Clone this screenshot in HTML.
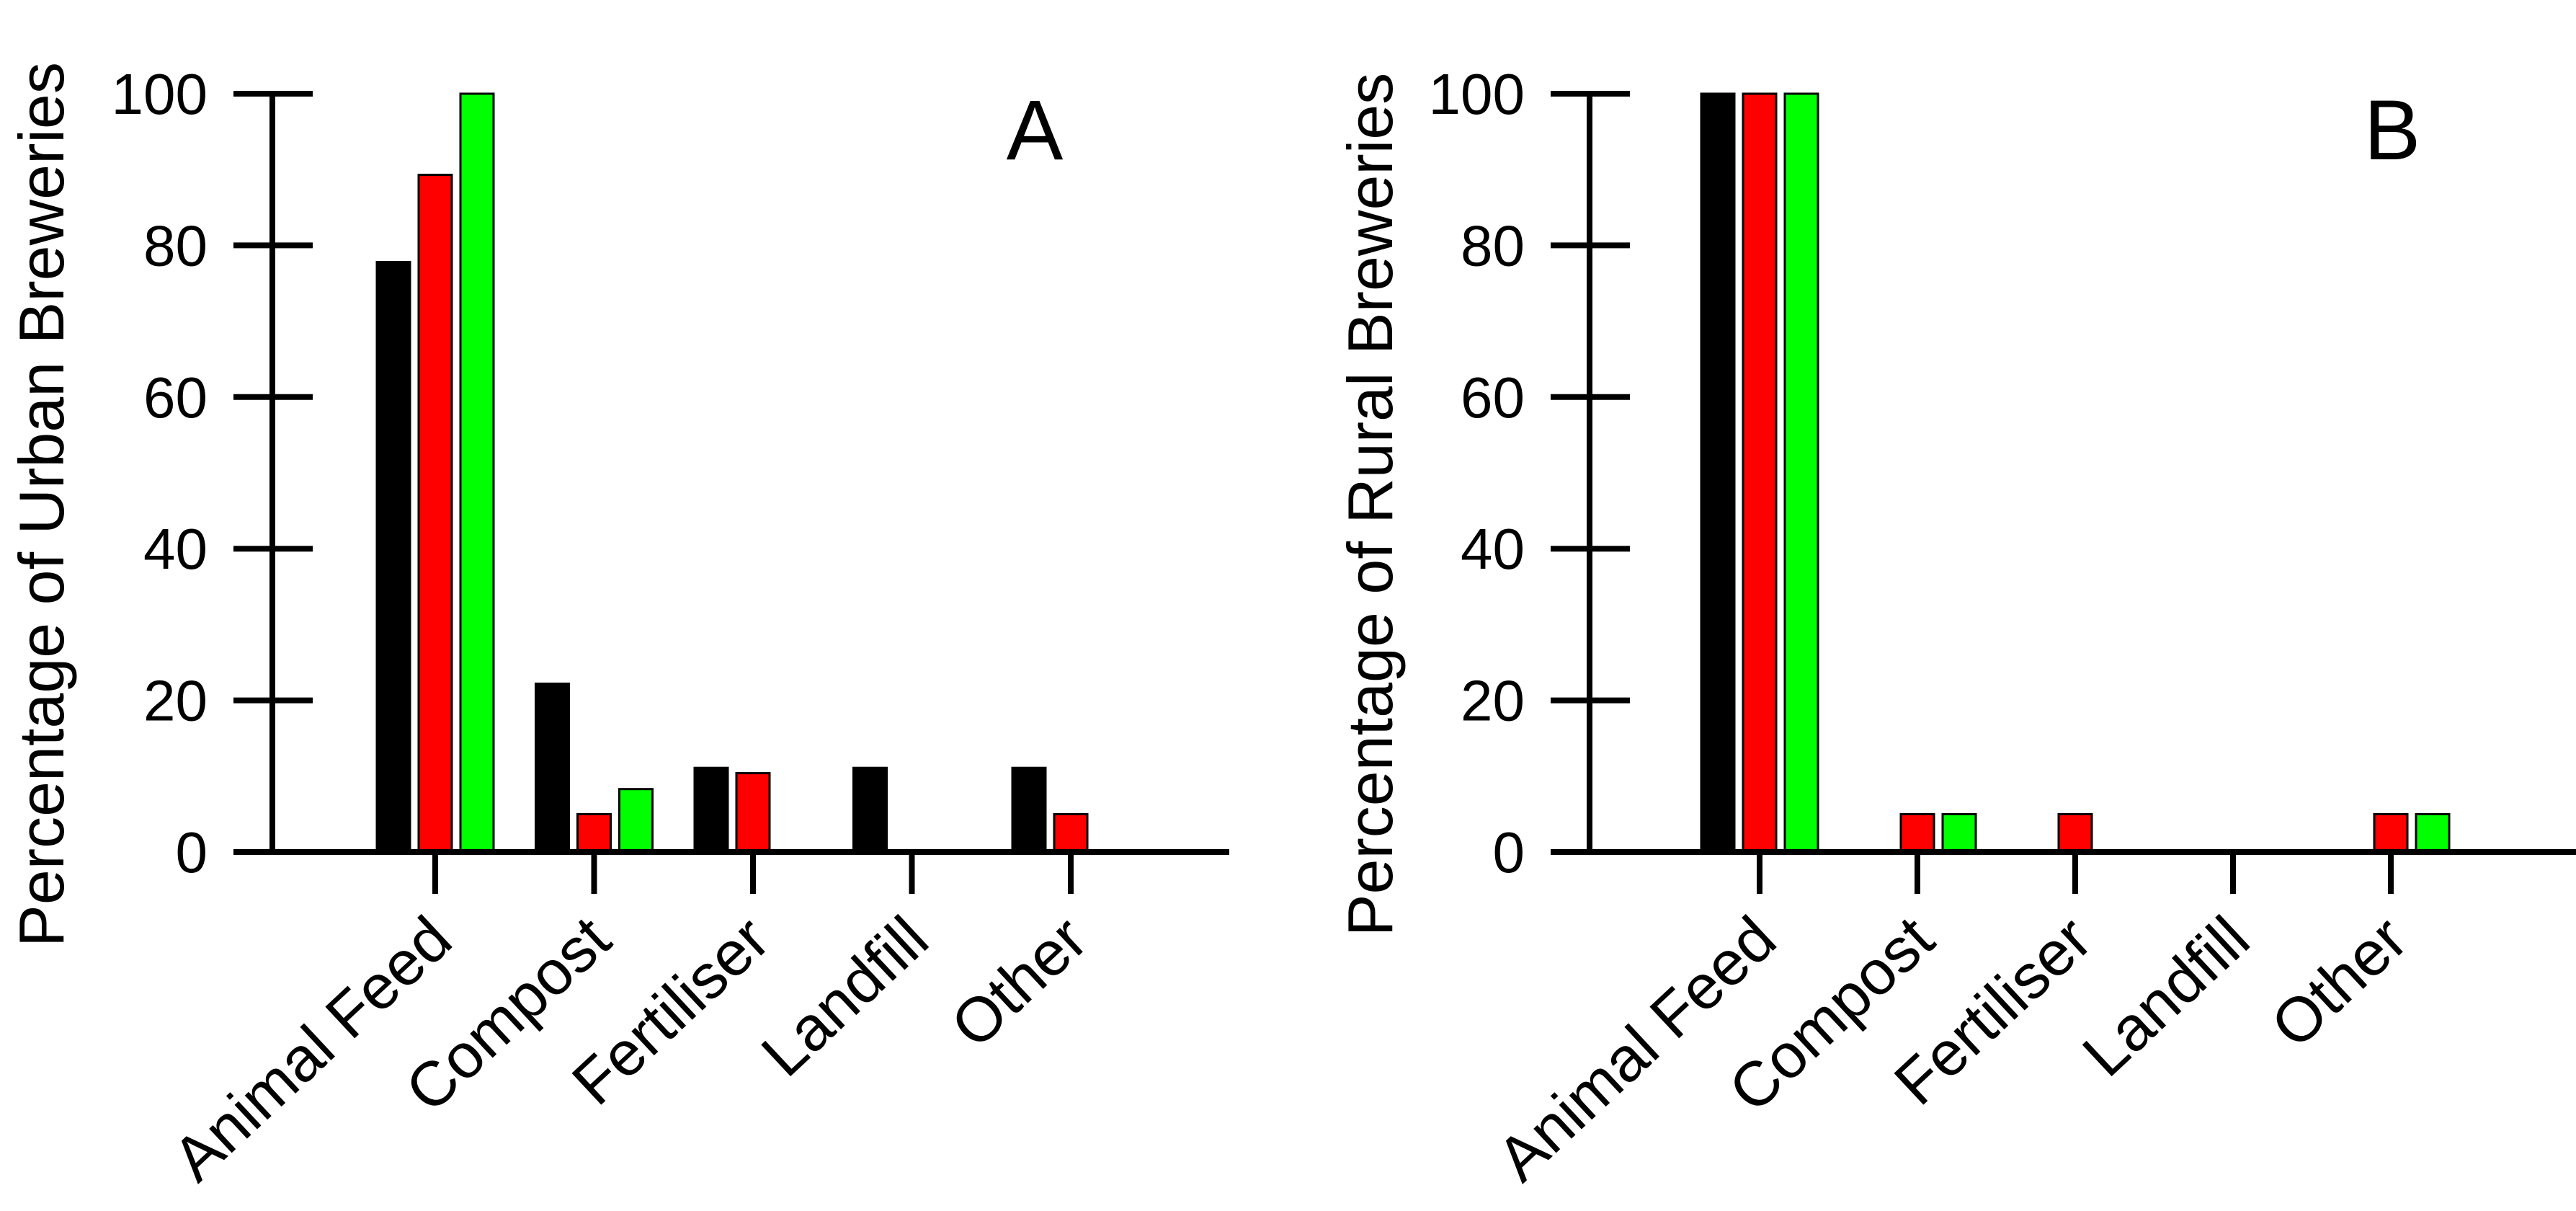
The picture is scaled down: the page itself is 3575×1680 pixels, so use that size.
<!DOCTYPE html>
<html><head><meta charset="utf-8"><style>html,body{margin:0;padding:0;background:#fff}svg{display:block}</style></head>
<body>
<svg id="chart" width="3575" height="1680" xmlns="http://www.w3.org/2000/svg" font-family="Liberation Sans, Arial, sans-serif"></svg>
<script>
const categories = ["Animal Feed","Compost","Fertiliser","Landfill","Other"];
const seriesColors = ["#000000","#ff0000","#00ff00"];
const urbanBlack = [77.8, 22.2, 11.1, 11.1, 11.1];
const urbanRed = [89.3, 5, 10.4, 0, 5];
const urbanGreen = [100, 8.3, 0, 0, 0];
const ruralBlack = [100, 0, 0, 0, 0];
const ruralRed = [100, 5, 5, 0, 5];
const ruralGreen = [100, 5, 0, 0, 5];
const yTicks = [0, 20, 40, 60, 80, 100];

const NS = "http://www.w3.org/2000/svg";
const svg = document.getElementById('chart');
function mk(tag, attrs, parent) {
  const e = document.createElementNS(NS, tag);
  for (const k in attrs) e.setAttribute(k, attrs[k]);
  (parent || svg).appendChild(e);
  return e;
}
function panel(cfg) {
  const g = mk('g', {});
  
  
  const y0 = 1182, y100 = 130;
  const yScale = v => y0 - (v / 100) * (y0 - y100);
  const xCat = i => cfg.cat0 + i * cfg.catStep;
  const series = cfg.series;
  series.forEach((vals, s) => {
    vals.forEach((v, i) => {
      if (v <= 0) return;
      const cx = xCat(i) + (s - 1) * 58;
      const r = mk('rect', {x: cx - 23, y: yScale(v), width: 46, height: y0 - yScale(v), fill: seriesColors[s], stroke: '#000', 'stroke-width': 3}, g);
      
      
    });
  });
  const ya = mk('line', {x1: cfg.axisX, y1: y100, x2: cfg.axisX, y2: y0, stroke: '#000', 'stroke-width': 8}, g);
  
  
  yTicks.forEach(t => {
    const y = yScale(t);
    const tl = mk('line', {x1: cfg.axisX - 54, y1: y, x2: cfg.axisX + 56, y2: y, stroke: '#000', 'stroke-width': 8}, g);
    
    
    const tx = mk('text', {x: cfg.axisX - 90, y: y + 28, 'font-size': 80, 'text-anchor': 'end'}, g);
    tx.textContent = t;
    
    
  });
  const xa = mk('line', {x1: cfg.axisX - 54, y1: y0, x2: cfg.xEnd, y2: y0, stroke: '#000', 'stroke-width': 8}, g);
  
  
  categories.forEach((c, i) => {
    const x = xCat(i);
    const tk = mk('line', {x1: x, y1: y0, x2: x, y2: 1240, stroke: '#000', 'stroke-width': 8}, g);
    
    
    const ax = x + 28, ay = 1310;
    const lb = mk('text', {x: ax, y: ay, 'font-size': 87, 'text-anchor': 'end', transform: `rotate(-43 ${ax} ${ay})`}, g);
    lb.textContent = c;
    
    
  });
  const yt = mk('text', {x: 0, y: 0, 'font-size': 88, 'text-anchor': 'middle', transform: `translate(${cfg.titleX} 700) rotate(-90)`}, g);
  yt.textContent = cfg.title;
  
  
  const pl = mk('text', {x: cfg.letterX, y: 221, 'font-size': 118, 'text-anchor': 'middle'}, g);
  pl.textContent = cfg.letter;
  
  
}
panel({name: 'panel-a-urban', axisX: 378, xEnd: 1706, cat0: 604, catStep: 220.5, series: [urbanBlack, urbanRed, urbanGreen], title: 'Percentage of Urban Breweries', titleX: 88, letter: 'A', letterX: 1436});
panel({name: 'panel-b-rural', axisX: 2206, xEnd: 3575, cat0: 2442, catStep: 219, series: [ruralBlack, ruralRed, ruralGreen], title: 'Percentage of Rural Breweries', titleX: 1932, letter: 'B', letterX: 3320});
</script>
</body></html>
